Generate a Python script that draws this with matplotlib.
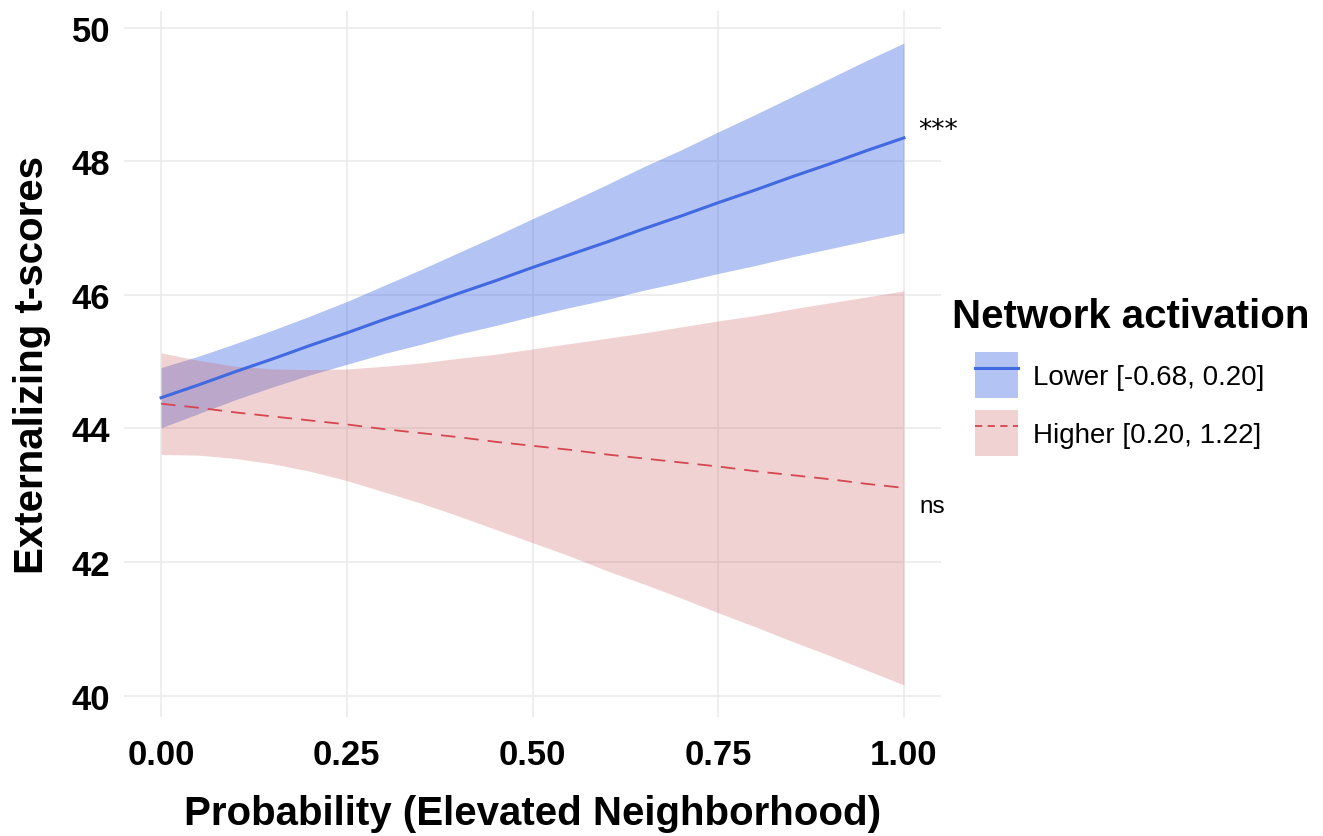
import matplotlib
matplotlib.use("Agg")
import matplotlib.pyplot as plt
from matplotlib.patches import Patch
from matplotlib.lines import Line2D

plt.rcParams['font.family'] = ['Liberation Sans', 'DejaVu Sans']

# values at x = 0, 0.05, ..., 1.0
prob = [0.0, 0.05, 0.1, 0.15, 0.2, 0.25, 0.3, 0.35, 0.4, 0.45, 0.5,
        0.55, 0.6, 0.65, 0.7, 0.75, 0.8, 0.85, 0.9, 0.95, 1.0]

lower_fit = [44.46, 44.65, 44.85, 45.04, 45.24, 45.43, 45.63, 45.82, 46.02, 46.21, 46.41,
             46.60, 46.79, 46.99, 47.18, 47.38, 47.57, 47.77, 47.96, 48.16, 48.35]
lower_hi = [44.91, 45.08, 45.27, 45.47, 45.68, 45.90, 46.14, 46.38, 46.63, 46.88, 47.14,
            47.39, 47.65, 47.92, 48.17, 48.44, 48.70, 48.97, 49.24, 49.51, 49.77]
lower_lo = [44.01, 44.22, 44.43, 44.62, 44.80, 44.96, 45.12, 45.26, 45.41, 45.54, 45.68,
            45.81, 45.93, 46.07, 46.19, 46.32, 46.44, 46.57, 46.69, 46.81, 46.93]

higher_fit = [44.37, 44.31, 44.24, 44.18, 44.12, 44.06, 43.99, 43.93, 43.87, 43.80, 43.74,
              43.68, 43.61, 43.55, 43.49, 43.43, 43.36, 43.30, 43.24, 43.17, 43.11]
higher_hi = [45.13, 45.02, 44.93, 44.89, 44.88, 44.89, 44.93, 44.98, 45.05, 45.11, 45.19,
             45.27, 45.35, 45.43, 45.52, 45.61, 45.69, 45.79, 45.88, 45.97, 46.06]
higher_lo = [43.61, 43.60, 43.55, 43.47, 43.36, 43.22, 43.05, 42.88, 42.69, 42.49, 42.29,
             42.09, 41.87, 41.67, 41.46, 41.24, 41.03, 40.81, 40.60, 40.38, 40.16]

groups = ['Lower [-0.68, 0.20]', 'Higher [0.20, 1.22]']
sig = ['***', 'ns']

xticks = [0.0, 0.25, 0.5, 0.75, 1.0]
xtick_labels = ['0.00', '0.25', '0.50', '0.75', '1.00']
yticks = [40, 42, 44, 46, 48, 50]

blue = 'royalblue'
red = 'indianred'
red_line = '#d5464e'

fig = plt.figure(figsize=(13.23, 8.37), dpi=100)
ax = fig.add_axes([0.0937, 0.1422, 0.6176, 0.8435])

ax.fill_between(prob, lower_lo, lower_hi, color=blue, alpha=0.4, linewidth=0)
ax.fill_between(prob, higher_lo, higher_hi, color=red, alpha=0.27, linewidth=0)
ax.plot(prob, lower_fit, color=blue, linewidth=2.2)
ax.plot(prob, higher_fit, color=red_line, linewidth=1.3, dashes=(8, 5))

ax.text(1.019, lower_fit[-1] + 0.12, sig[0], fontsize=19, va='center', ha='left',
        family=['DejaVu Sans'])
ax.text(1.021, higher_fit[-1] - 0.27, sig[1], fontsize=17.5, va='center', ha='left')

ax.set_xlim(-0.05, 1.05)
ax.set_ylim(39.68, 50.25)
ax.set_xticks(xticks)
ax.set_xticklabels(xtick_labels)
ax.set_yticks(yticks)
ax.grid(True, color='#ebebeb', linewidth=1.2)
ax.set_axisbelow(True)
for s in ax.spines.values():
    s.set_visible(False)
ax.tick_params(axis='both', length=0, labelsize=25)
ax.tick_params(axis='x', pad=15)
ax.tick_params(axis='y', pad=10)
for lab in ax.get_xticklabels() + ax.get_yticklabels():
    lab.set_fontweight('bold')

ax.set_xlabel('Probability (Elevated Neighborhood)', fontsize=29, fontweight='bold', labelpad=17)
ax.set_ylabel('Externalizing t-scores', fontsize=29, fontweight='bold', labelpad=15)

fig.text(952 / 1323, 1 - 317 / 837, 'Network activation', fontsize=29, fontweight='bold',
         va='center', ha='left')

handles = [
    (Patch(facecolor=blue, alpha=0.4, linewidth=0), Line2D([], [], color=blue, linewidth=2.2)),
    (Patch(facecolor=red, alpha=0.27, linewidth=0), Line2D([], [], color=red_line, linewidth=1.3, dashes=(4, 3))),
]
fig.legend(handles, groups, loc='upper left', bbox_to_anchor=(975 / 1323, 1 - 353 / 837),
           frameon=False, fontsize=20, handlelength=1.55, handleheight=2.18,
           handletextpad=0.54, labelspacing=0.42, borderpad=0, borderaxespad=0)

fig.savefig('out.png', dpi=100)
